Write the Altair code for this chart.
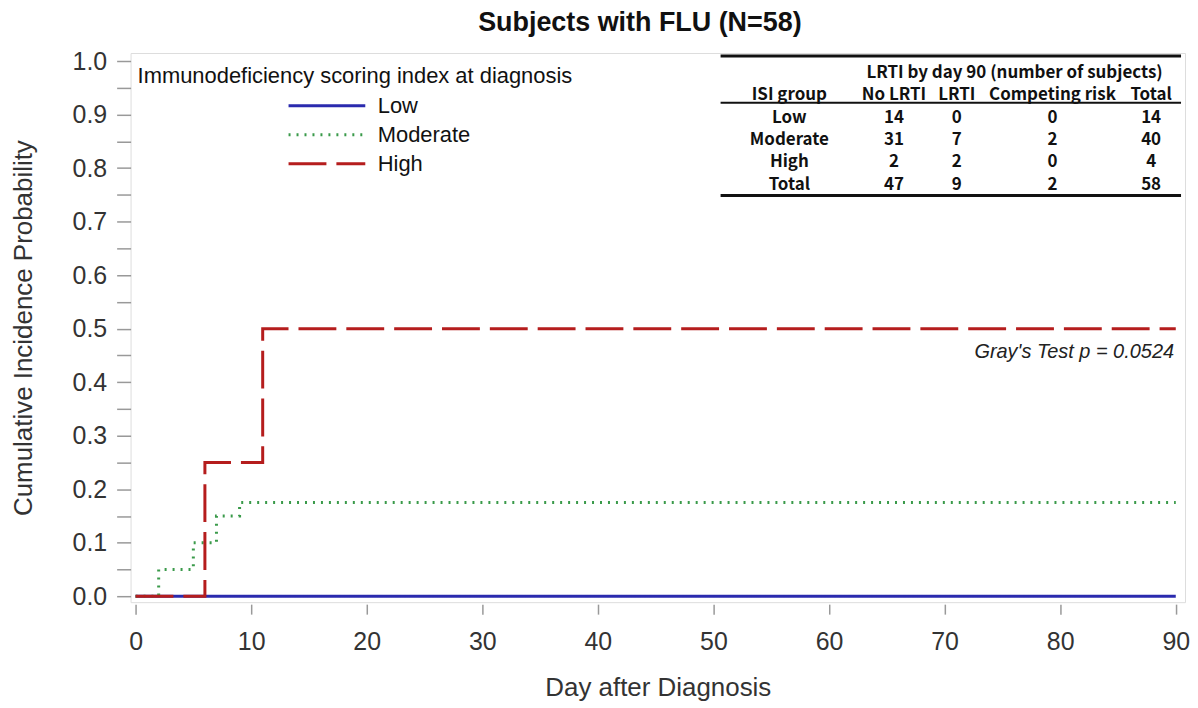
import altair as alt
import pandas as pd

# ---- data ----
groups = ["Low", "Moderate", "High"]
low_days = [0, 90]
low_cif = [0.0, 0.0]
mod_days = [0, 2, 5, 7, 9, 90]
mod_cif = [0.0, 0.05, 0.10, 0.15, 0.175, 0.175]
high_days = [0, 6, 11, 90]
high_cif = [0.0, 0.25, 0.50, 0.50]

table_cols = ["ISI group", "No LRTI", "LRTI", "Competing risk", "Total"]
table_groups = ["Low", "Moderate", "High", "Total"]
no_lrti = [14, 31, 2, 47]
lrti = [0, 7, 2, 9]
competing = [0, 2, 0, 2]
totals = [14, 40, 4, 58]
table_super = "LRTI by day 90 (number of subjects)"
p_text = "Gray's Test p = 0.0524"

x_ticks = list(range(0, 91, 10))
y_ticks = [round(i * 0.05, 2) for i in range(21)]

# ---- build tables ----
rows = []
for g, d, c in [("Low", low_days, low_cif), ("Moderate", mod_days, mod_cif), ("High", high_days, high_cif)]:
    for dd, cc in zip(d, c):
        rows.append({"group": g, "day": dd, "cif": cc})
curves = pd.DataFrame(rows)

cells = []
row_keys = ["h1", "h2"] + table_groups
cells.append({"row": "h1", "col": "super", "val": table_super})
for c in table_cols:
    cells.append({"row": "h2", "col": c, "val": c})
for i, g in enumerate(table_groups):
    vals = [g, no_lrti[i], lrti[i], competing[i], totals[i]]
    for c, v in zip(table_cols, vals):
        cells.append({"row": g, "col": c, "val": str(v)})
cells = pd.DataFrame(cells)

colors = ["#2a2aae", "#3a9a4a", "#b51d1d"]
dashes = [[1, 0], [2, 6], [38, 10]]
FONT = "Liberation Sans"
TFONT = "Noto Sans CJK JP"

legend = alt.Legend(
    title="Immunodeficiency scoring index at diagnosis",
    orient="none", legendX=7, legendY=13, padding=0,
    titleFont=FONT, titleFontSize=22, titleFontWeight="normal", titleColor="#111",
    titlePadding=6, titleLimit=1000,
    labelFont=FONT, labelFontSize=22, labelColor="#111",
    symbolType="stroke", symbolSize=5929, symbolStrokeWidth=3,
    symbolOffset=150, labelOffset=11, rowPadding=5, clipHeight=24,
)

lines = alt.Chart(curves).mark_line(interpolate="step-after", strokeWidth=3).encode(
    x=alt.X("day:Q",
            scale=alt.Scale(domain=[-0.43, 90.8], nice=False, zero=False),
            axis=alt.Axis(values=x_ticks, title="Day after Diagnosis", grid=False, domain=False,
                          offset=2, tickSize=10, tickColor="#999", tickWidth=1.5,
                          labelFont=FONT, labelFontSize=25, labelColor="#333", labelPadding=15,
                          titleFont=FONT, titleFontSize=26, titleFontWeight="normal",
                          titleColor="#333", titlePadding=21)),
    y=alt.Y("cif:Q",
            scale=alt.Scale(domain=[-0.011, 1.015], nice=False, zero=False),
            axis=alt.Axis(values=y_ticks,
                          labelExpr="round(datum.value*100) % 10 == 0 ? format(datum.value, '.1f') : ''",
                          title="Cumulative Incidence Probability", grid=False, domain=False,
                          tickSize=14, tickColor="#999", tickWidth=1.5,
                          labelFont=FONT, labelFontSize=25, labelColor="#333", labelPadding=10,
                          titleFont=FONT, titleFontSize=26, titleFontWeight="normal",
                          titleColor="#333", titlePadding=36)),
    color=alt.Color("group:N", scale=alt.Scale(domain=groups, range=colors), legend=legend),
    strokeDash=alt.StrokeDash("group:N", scale=alt.Scale(domain=groups, range=dashes), legend=legend),
)

p_label = alt.Chart(alt.Data(values=[{"t": p_text}])).mark_text(
    align="right", baseline="middle", font=FONT, fontSize=20, fontStyle="italic", color="#222"
).encode(x=alt.value(1047), y=alt.value(300), text="t:N")

row_scale = alt.Scale(domain=row_keys, range=[20, 132], padding=0)
col_px = {"super": 887, "ISI group": 661, "No LRTI": 766, "LRTI": 829, "Competing risk": 925, "Total": 1024}

text_layers = []
for c, px in col_px.items():
    text_layers.append(
        alt.Chart(cells).transform_filter(alt.datum.col == c).mark_text(
            align="center", baseline="middle", font=TFONT, fontSize=17, fontWeight="bold", color="#111"
        ).encode(x=alt.value(px), y=alt.Y("row:N", scale=row_scale, axis=None), text="val:N")
    )

one = alt.Data(values=[{"a": 1}])
rules = [
    alt.Chart(one).mark_rule(color="#111", strokeWidth=3).encode(x=alt.value(592), x2=alt.value(1054), y=alt.value(3)),
    alt.Chart(one).mark_rule(color="#111", strokeWidth=2).encode(x=alt.value(592), x2=alt.value(1054), y=alt.value(50)),
    alt.Chart(one).mark_rule(color="#111", strokeWidth=3).encode(x=alt.value(592), x2=alt.value(1054), y=alt.value(143)),
]

table = alt.layer(*text_layers)

chart = alt.layer(lines, p_label, table, *rules).resolve_scale(
    x="independent", y="independent"
).properties(
    width=1058, height=551,
    autosize=alt.AutoSizeParams(type="none"),
    padding={"left": 123, "top": 44, "right": 5, "bottom": 102},
    title=alt.TitleParams("Subjects with FLU (N=58)", font=FONT, fontSize=27, fontWeight="bold",
                          color="#111", anchor="middle", frame="group", dx=-18, offset=12),
).configure_view(stroke="#a6a6a6", strokeWidth=2).configure(background="white")

chart.save("out.html", embed_options={"renderer": "svg", "actions": False})
